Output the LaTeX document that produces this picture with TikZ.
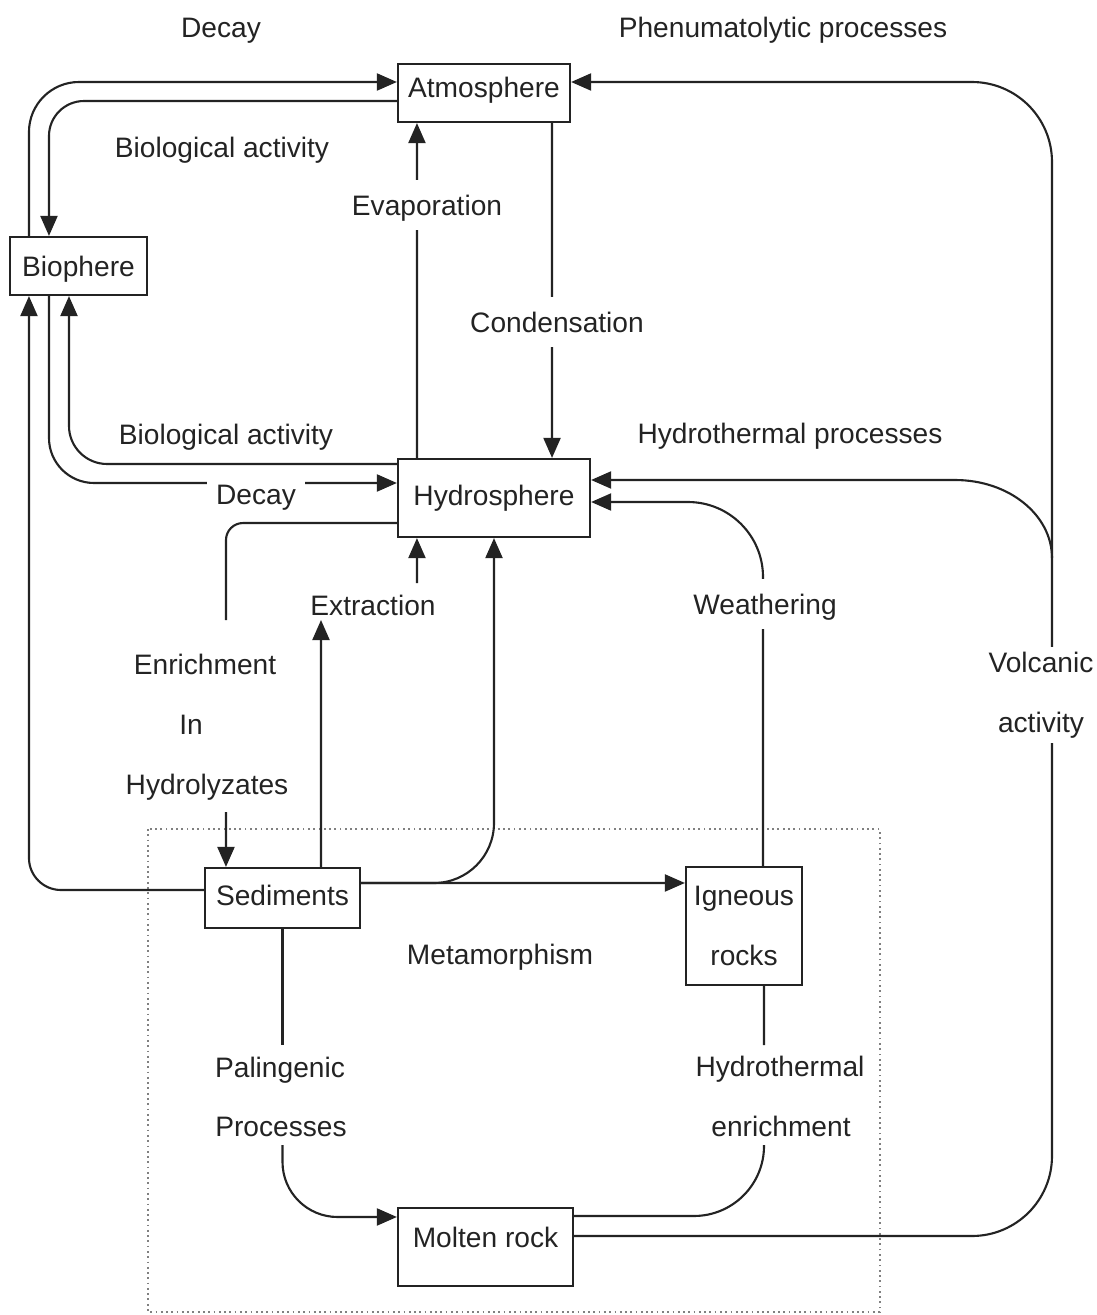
\documentclass[tikz,border=0pt]{standalone}
\usepackage{fontspec}
\setmainfont{Liberation Sans}
\usetikzlibrary{arrows.meta}
\pgfdeclarelayer{bg}
\pgfsetlayers{bg,main}
\definecolor{ink}{RGB}{35,35,35}
\begin{document}
\begin{tikzpicture}[x=0.01cm,y=-0.01cm,
  every node/.style={font=\fontsize{8}{17.07}\selectfont, text=ink},
  boxbase/.style={draw=ink, line width=0.6pt, fill=white, inner sep=0pt},
  box/.style={boxbase, text height=6pt, text depth=0.3pt},
  lbl/.style={inner sep=0pt, text height=6pt, text depth=0.3pt},
  mask/.style={lbl, fill=white, inner xsep=2.5pt, inner ysep=4pt},
  conn/.style={draw=ink, line width=0.6pt},
  arr/.style={conn, -{Triangle[length=2mm,width=1.7mm]}},
]
\useasboundingbox (0,0) rectangle (1096,1315);

% boxes
\node[box, minimum width=1.72cm, minimum height=0.58cm, text depth=3.7pt] (atm) at (484,93) {Atmosphere};
\node[box, minimum width=1.37cm, minimum height=0.58cm] (bio) at (78.5,266) {Biophere};
\node[box, minimum width=1.92cm, minimum height=0.78cm, text depth=2pt] (hyd) at (494,498) {Hydrosphere};
\node[box, minimum width=1.55cm, minimum height=0.60cm, text depth=2pt] (sed) at (282.5,898) {Sediments};
\node[boxbase, minimum width=1.16cm, minimum height=1.18cm, align=center] (ign) at (744,926) {Igneous\\rocks};
\node[box, minimum width=1.75cm, minimum height=0.78cm, text depth=6pt] (mol) at (485.5,1247) {Molten rock};

% labels
\node[lbl] (tdecay) at (221,27) {Decay};
\node[lbl] (tphen) at (783,27) {Phenumatolytic processes};
\node[lbl] (bioact1) at (222,147) {Biological activity};
\node[mask] (evap) at (427,205) {Evaporation};
\node[mask] (cond) at (557,322) {Condensation};
\node[lbl] (bioact2) at (226,434) {Biological activity};
\node[lbl] (hproc) at (790,433) {Hydrothermal processes};
\node[mask] (decay) at (256,494) {Decay};
\node[lbl] (extr) at (373,605) {Extraction};
\node[mask] (weath) at (765,604) {Weathering};
\node[lbl] (enr1) at (205,664) {Enrichment};
\node[lbl] (enr2) at (191,724) {In};
\node[lbl] (enr3) at (207,784) {Hydrolyzates};
\node[fill=white, inner xsep=1pt, inner ysep=1.5pt, align=center] (volc) at (1041,695) {Volcanic\\activity};
\node[lbl] (meta) at (500,954) {Metamorphism};
\node[lbl] (pal1) at (280,1067) {Palingenic};
\node[lbl] (pal2) at (281,1126) {Processes};
\node[lbl] (hen1) at (780,1066) {Hydrothermal};
\node[lbl] (hen2) at (781,1126) {enrichment};

\coordinate (vb) at (1052,1236);
\coordinate (vt) at (1052,82);
\coordinate (hp) at (1052,558);
\coordinate (en1) at (226,620);
\coordinate (en2) at (226,812);
\coordinate (ex1) at (321,620);
\coordinate (ex2) at (417,583);
\coordinate (pa1) at (282.5,1045);
\coordinate (pa2) at (282.5,1145);
\coordinate (he1) at (764,1045);
\coordinate (he2) at (764,1145);

\begin{pgfonlayer}{bg}
\draw[densely dotted, line width=0.5pt, draw=gray] (148,829) rectangle (880,1312);
% biosphere <-> atmosphere
\draw[arr, rounded corners=0.5cm] ([xshift=-0.495cm]bio.north) |- ([yshift=0.11cm]atm.west);
\draw[arr, rounded corners=0.35cm] ([yshift=-0.08cm]atm.west) -| ([xshift=-0.295cm]bio.north);
% evaporation / condensation
\draw[arr] ([xshift=-0.77cm]hyd.north) -- ([xshift=-0.67cm]atm.south);
\draw[arr] ([xshift=0.68cm]atm.south) -- ([xshift=0.58cm]hyd.north);
% volcanic activity
\draw[arr, rounded corners=0.8cm] ([yshift=0.11cm]mol.east) -- (vb) -- (vt) -- ([yshift=0.11cm]atm.east);
% hydrothermal processes
\draw[arr] (hp) .. controls (1052,515) and (1009,480) .. (955,480) -- ([yshift=0.18cm]hyd.east);
% weathering
\draw[arr, rounded corners=0.75cm] ([xshift=0.19cm]ign.north) |- ([yshift=-0.04cm]hyd.east);
% biological activity (hydrosphere -> biosphere)
\draw[arr, rounded corners=0.38cm] ([yshift=0.34cm]hyd.west) -| ([xshift=-0.095cm]bio.south);
% decay (biosphere -> hydrosphere)
\draw[arr, rounded corners=0.45cm] ([xshift=-0.295cm]bio.south) |- ([yshift=0.15cm]hyd.west);
% sediments -> biosphere
\draw[arr, rounded corners=0.32cm] ([yshift=0.08cm]sed.west) -| ([xshift=-0.495cm]bio.south);
% enrichment in hydrolyzates
\draw[conn, rounded corners=0.17cm] ([yshift=-0.25cm]hyd.west) -| (en1);
\draw[arr] (en2) -- ([xshift=-0.565cm]sed.north);
% extraction
\draw[arr] ([xshift=0.385cm]sed.north) -- (ex1);
\draw[arr] (ex2) -- ([xshift=-0.77cm]hyd.south);
% sediments -> hydrosphere, igneous
\draw[arr, rounded corners=0.6cm] ([yshift=0.15cm]sed.east) -| (hyd.south);
\draw[arr] ([yshift=0.15cm]sed.east) -- ([yshift=0.43cm]ign.west);
% palingenic processes
\draw[conn] (sed.south) -- (pa1);
\draw[arr, rounded corners=0.55cm] (pa2) |- ([yshift=0.3cm]mol.west);
% hydrothermal enrichment
\draw[conn] ([xshift=0.2cm]ign.south) -- (he1);
\draw[conn, rounded corners=0.7cm] (he2) |- ([yshift=0.31cm]mol.east);
\end{pgfonlayer}
\end{tikzpicture}
\end{document}
